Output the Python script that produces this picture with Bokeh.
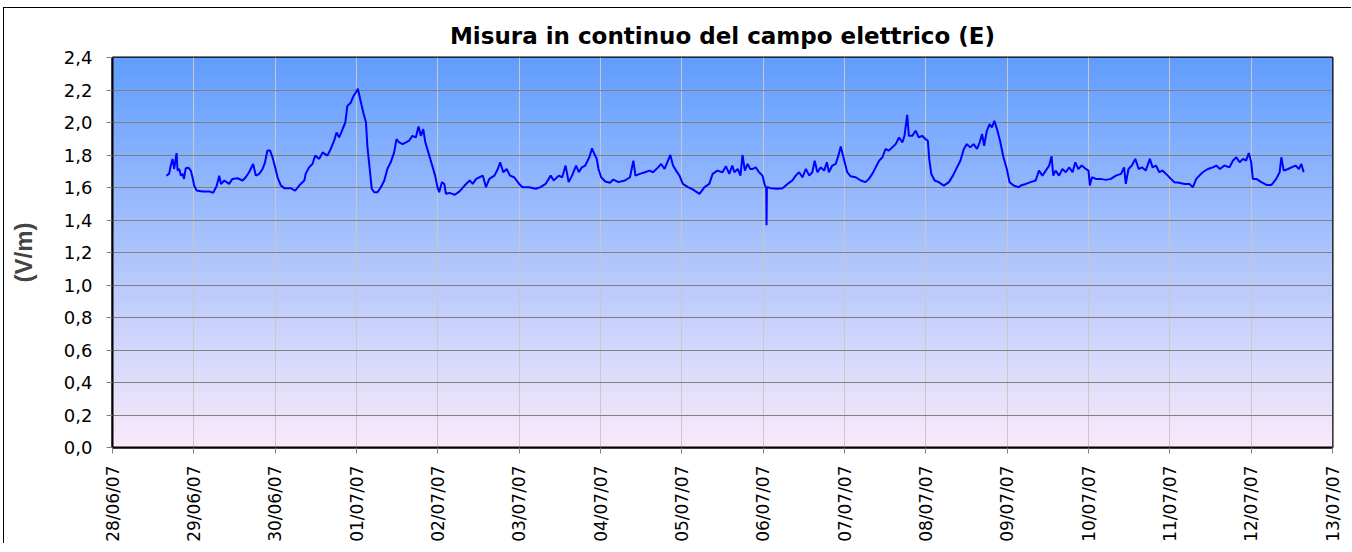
import numpy as np
from bokeh.plotting import figure
from bokeh.models import FixedTicker, CustomJSTickFormatter
from bokeh.embed import file_html
from bokeh.resources import INLINE

title_text = "Misura in continuo del campo elettrico (E)"
y_label = "(V/m)"

# x tick labels (one per day, hours since 28/06/07 00:00)
x_tick_labels = ["28/06/07", "29/06/07", "30/06/07", "01/07/07", "02/07/07", "03/07/07",
                 "04/07/07", "05/07/07", "06/07/07", "07/07/07", "08/07/07", "09/07/07",
                 "10/07/07", "11/07/07", "12/07/07", "13/07/07"]
x_tick_hours = [0, 24, 48, 72, 96, 120, 144, 168, 192, 216, 240, 264, 288, 312, 336, 360]
y_ticks = [0.0, 0.2, 0.4, 0.6, 0.8, 1.0, 1.2, 1.4, 1.6, 1.8, 2.0, 2.2, 2.4]

# time in hours since 28/06/07 00:00
time_h = [
    15.9, 16.7, 17.2, 17.7, 18.2, 18.9, 19.2, 19.7, 20.2, 20.7, 21.1, 21.6, 22.4, 23.1, 23.6,
    24.1, 24.8, 26.6, 28.5, 29.7, 30.7, 31.5, 32.0, 33.0, 34.4, 35.4, 36.9, 38.4, 39.3, 40.3,
    41.5, 42.3, 43.3, 44.3, 45.0, 45.7, 46.5, 47.2, 48.0, 48.7, 49.7, 50.7, 52.6, 53.9, 55.1,
    56.6, 57.0, 58.0, 59.0, 59.8, 61.0, 62.0, 63.4, 64.4, 65.4, 66.1, 66.9, 67.9, 68.7, 69.3,
    70.3, 71.1, 71.8, 72.4, 73.1, 74.0, 74.8, 75.2, 75.9, 76.5, 77.2, 78.2, 79.2, 80.2, 81.1,
    82.1, 83.1, 83.8, 84.6, 85.6, 86.6, 87.5, 88.5, 89.5, 90.3, 91.0, 91.7, 92.3, 93.2, 94.2,
    95.2, 95.9, 96.4, 97.2, 97.9, 98.4,
    99.5, 101.0, 102.4, 103.9, 105.4, 106.3, 107.3, 108.3, 109.3, 110.2, 111.2, 112.7, 113.7,
    114.4, 115.3, 116.3, 117.3, 118.5, 120.0, 121.0, 122.9, 124.9, 126.3, 127.8, 129.3, 130.2,
    131.7, 132.7, 133.7, 134.6, 135.6, 136.8, 137.6, 138.5, 139.5, 140.7, 141.5, 142.2, 142.9,
    143.4, 144.2, 145.4, 146.8, 147.8, 149.3, 151.2, 152.7, 153.7, 154.3, 155.6, 157.1, 158.5,
    159.5, 161.0, 161.9, 162.9, 163.7, 164.6, 165.4, 166.3, 167.3, 168.3, 169.8, 171.2, 173.2,
    174.7, 176.1, 177.1, 178.5, 180.0, 181.0, 182.0, 182.9,
    183.5, 184.5, 185.3, 185.9, 186.6, 187.4, 188.2, 188.9, 189.8, 190.8, 191.8, 192.5, 192.9,
    193.0, 193.1, 193.2, 194.3, 196.2, 197.7, 199.2, 200.6, 201.6, 202.6, 203.6, 204.6, 205.6,
    206.5, 207.2, 208.0, 209.0, 210.0, 210.8, 211.4, 212.4, 213.4, 214.2, 214.9, 215.6, 216.3,
    216.8, 217.8, 219.3, 220.8, 222.2, 223.2, 224.2, 225.2, 226.2, 227.2, 228.1, 229.1, 230.1,
    231.1, 232.1, 233.1, 233.7, 234.5, 235.0, 236.0, 237.0, 237.9, 238.9, 239.9, 240.6, 241.0,
    241.6, 242.6, 243.8, 245.3, 246.8, 248.0, 249.2, 250.2, 251.2, 252.1, 253.1, 254.1, 255.1,
    255.9, 256.6, 257.2, 258.0, 258.8, 259.5, 260.2, 261.0, 261.9, 262.9, 263.9, 264.7, 265.9,
    267.4,
    268.0, 269.5, 270.9, 272.4, 273.4, 274.4, 275.4, 276.4, 277.1, 277.6, 278.3, 279.3, 280.3,
    281.3, 282.3, 283.3, 284.1, 285.0, 286.0, 287.2, 288.0, 288.4, 289.0, 290.2, 291.6, 293.1,
    294.6, 296.1, 297.6, 298.5, 299.0, 299.8, 300.8, 301.8, 302.8, 303.8, 304.9, 306.1, 306.9,
    307.9, 308.9, 309.8, 311.4, 312.3, 313.3, 314.8, 316.3, 317.8, 318.8, 319.8, 320.7, 321.7,
    323.2, 324.7, 325.7, 326.8, 328.1, 329.6, 330.6, 331.6, 332.6, 333.6, 334.5, 335.3, 336.0,
    336.5, 337.5, 339.0, 340.5, 342.0, 343.4, 344.4, 344.9, 345.6, 346.9, 347.9, 349.1, 350.1,
    350.8, 351.5,
]

# electric field (V/m)
e_field = [
    1.673, 1.684, 1.735, 1.776, 1.714, 1.812, 1.704, 1.714, 1.673, 1.684, 1.653, 1.718, 1.722, 1.704, 1.663,
    1.612, 1.582, 1.576, 1.576, 1.567, 1.608, 1.673, 1.622, 1.643, 1.622, 1.653, 1.657, 1.643, 1.663, 1.694,
    1.745, 1.673, 1.684, 1.714, 1.755, 1.827, 1.827, 1.786, 1.724, 1.663, 1.612, 1.596, 1.596, 1.580, 1.612,
    1.643, 1.684, 1.724, 1.745, 1.796, 1.776, 1.816, 1.796, 1.837, 1.888, 1.939, 1.908, 1.959, 2.000, 2.102,
    2.122, 2.163, 2.184, 2.208, 2.143, 2.061, 2.000, 1.857, 1.714, 1.592, 1.571, 1.571, 1.602, 1.643, 1.714,
    1.755, 1.816, 1.898, 1.878, 1.867, 1.878, 1.888, 1.918, 1.908, 1.976, 1.918, 1.959, 1.878, 1.816, 1.745,
    1.673, 1.602, 1.571, 1.633, 1.622, 1.561,
    1.567, 1.555, 1.576, 1.612, 1.643, 1.622, 1.653, 1.663, 1.673, 1.602, 1.653, 1.673, 1.714,
    1.755, 1.694, 1.714, 1.673, 1.663, 1.622, 1.602, 1.602, 1.592, 1.602, 1.622, 1.673, 1.643,
    1.673, 1.663, 1.735, 1.633, 1.673, 1.735, 1.694, 1.724, 1.735, 1.786, 1.841, 1.806, 1.776,
    1.714, 1.663, 1.637, 1.629, 1.649, 1.633, 1.643, 1.663, 1.765, 1.673, 1.684, 1.694, 1.704,
    1.694, 1.724, 1.745, 1.714, 1.755, 1.800, 1.735, 1.704, 1.673, 1.622, 1.602, 1.588, 1.561,
    1.602, 1.622, 1.684, 1.704, 1.694, 1.731, 1.684, 1.735,
    1.694, 1.714, 1.673, 1.800, 1.704, 1.745, 1.714, 1.714, 1.724, 1.694, 1.673, 1.612, 1.600,
    1.367, 1.600, 1.602, 1.596, 1.592, 1.596, 1.622, 1.643, 1.673, 1.694, 1.663, 1.714, 1.673,
    1.694, 1.765, 1.694, 1.724, 1.704, 1.755, 1.694, 1.735, 1.745, 1.796, 1.853, 1.792, 1.735,
    1.694, 1.669, 1.663, 1.643, 1.633, 1.653, 1.684, 1.724, 1.765, 1.786, 1.837, 1.827, 1.847,
    1.867, 1.908, 1.878, 1.918, 2.047, 1.918, 1.918, 1.949, 1.908, 1.918, 1.898, 1.888, 1.776,
    1.684, 1.643, 1.633, 1.612, 1.633, 1.673, 1.724, 1.765, 1.837, 1.867, 1.847, 1.867, 1.837,
    1.878, 1.929, 1.857, 1.949, 1.990, 1.969, 2.010, 1.959, 1.888, 1.786, 1.714, 1.633, 1.612,
    1.602,
    1.612, 1.622, 1.633, 1.643, 1.704, 1.673, 1.704, 1.735, 1.792, 1.673, 1.704, 1.673, 1.714,
    1.694, 1.724, 1.694, 1.755, 1.714, 1.735, 1.714, 1.704, 1.612, 1.663, 1.653, 1.653, 1.647,
    1.653, 1.673, 1.684, 1.724, 1.622, 1.714, 1.735, 1.776, 1.714, 1.724, 1.704, 1.776, 1.724,
    1.735, 1.694, 1.704, 1.673, 1.653, 1.633, 1.629, 1.622, 1.622, 1.602, 1.653, 1.673, 1.694,
    1.714, 1.724, 1.735, 1.714, 1.735, 1.724, 1.765, 1.786, 1.755, 1.776, 1.765, 1.812, 1.755,
    1.653, 1.653, 1.633, 1.616, 1.616, 1.653, 1.694, 1.786, 1.704, 1.714, 1.724, 1.735, 1.714,
    1.745, 1.694,
]

X_MIN, X_MAX = x_tick_hours[0], x_tick_hours[-1]
Y_MIN, Y_MAX = y_ticks[0], y_ticks[-1]

p = figure(width=1348, height=536, output_backend="svg", toolbar_location=None,
           x_range=(X_MIN, X_MAX), y_range=(Y_MIN, Y_MAX),
           min_border_left=108, min_border_right=20, min_border_top=49, min_border_bottom=95)
# thin outer chart border on top / left (the rest runs off the picture)
p.styles = {"border-top": "1px solid black", "border-left": "1px solid black",
            "margin-top": "7px", "margin-left": "3px"}

# background gradient (blue at top -> pale pink at bottom)
top_col = np.array([97, 158, 255], dtype=float)
bot_col = np.array([250, 234, 250], dtype=float)
n = 200
frac = np.linspace(0, 1, n)[:, None]
cols = bot_col + (top_col - bot_col) * frac
img = np.zeros((n, 1), dtype=np.uint32)
view = img.view(dtype=np.uint8).reshape((n, 1, 4))
view[:, 0, 0] = cols[:, 0].astype(np.uint8)
view[:, 0, 1] = cols[:, 1].astype(np.uint8)
view[:, 0, 2] = cols[:, 2].astype(np.uint8)
view[:, 0, 3] = 255
p.image_rgba(image=[img], x=X_MIN, y=Y_MIN, dw=X_MAX - X_MIN, dh=Y_MAX - Y_MIN, level="image")

p.line(time_h, e_field, line_color="#0000FF", line_width=2)

# title
p.title.text = title_text
p.title.align = "center"
p.title.text_font = "DejaVu Sans"
p.title.text_font_style = "bold"
p.title.text_font_size = "23px"
p.title.text_color = "black"
p.title.standoff = 17

# grids
p.ygrid.ticker = FixedTicker(ticks=y_ticks)
p.ygrid.grid_line_color = "#808080"
p.ygrid.grid_line_width = 1
p.xgrid.ticker = FixedTicker(ticks=x_tick_hours)
p.xgrid.grid_line_color = "#C8C8C8"
p.xgrid.grid_line_width = 1

# outline
p.outline_line_color = "black"
p.outline_line_width = 2
p.background_fill_color = "white"
p.border_fill_color = "white"

# y axis
p.yaxis.ticker = FixedTicker(ticks=y_ticks)
p.yaxis.formatter = CustomJSTickFormatter(code="return tick.toFixed(1).replace('.', ',');")
p.yaxis.axis_label = y_label
p.yaxis.axis_label_text_font = "Liberation Sans"
p.yaxis.axis_label_text_font_style = "bold"
p.yaxis.axis_label_text_font_size = "24px"
p.yaxis.axis_label_standoff = 24
p.yaxis.major_label_text_font = "DejaVu Sans"
p.yaxis.major_label_text_font_size = "18px"
p.yaxis.major_label_text_color = "black"
p.yaxis.major_label_standoff = 14
p.yaxis.axis_line_color = "black"
p.yaxis.axis_line_width = 2
p.yaxis.major_tick_line_color = "#808080"
p.yaxis.major_tick_out = 6
p.yaxis.major_tick_in = 0
p.yaxis.minor_tick_line_color = None

# x axis
p.xaxis.ticker = FixedTicker(ticks=x_tick_hours)
p.xaxis.major_label_overrides = {h: lab for h, lab in zip(x_tick_hours, x_tick_labels)}
p.xaxis.major_label_orientation = np.pi / 2
p.xaxis.major_label_text_font = "DejaVu Sans"
p.xaxis.major_label_text_font_size = "17px"
p.xaxis.major_label_text_color = "black"
p.xaxis.major_label_standoff = 12
p.xaxis.axis_line_color = "black"
p.xaxis.axis_line_width = 2
p.xaxis.major_tick_line_color = "#808080"
p.xaxis.major_tick_out = 6
p.xaxis.major_tick_in = 0
p.xaxis.minor_tick_line_color = None

open("out.html", "w").write(file_html(p, INLINE))
